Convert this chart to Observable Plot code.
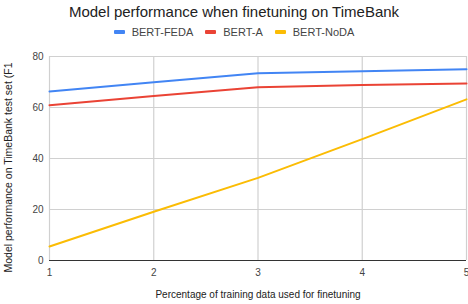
<!DOCTYPE html>
<html><head><meta charset="utf-8">
<script src="https://cdn.jsdelivr.net/npm/d3@7"></script>
<script src="https://cdn.jsdelivr.net/npm/@observablehq/plot@0.6"></script>
<style>
body{margin:0;background:#fff;font-family:"Liberation Sans",Arial,sans-serif;}
#wrap{width:468px;height:304px;overflow:hidden;}
#title{height:24px;line-height:23px;text-align:center;font-size:15px;color:#222;}
#legend{height:16px;display:flex;align-items:center;justify-content:center;font-size:11px;color:#444;}
.item{display:flex;align-items:center;margin:0 6px;}
.sw{width:11px;height:4px;border-radius:1px;margin-right:7px;}
svg{display:block}
</style></head>
<body><div id="wrap"><div id="title"></div><div id="legend"></div><div id="chart"></div></div>
<script>
const titleText = "Model performance when finetuning on TimeBank";
const xLabel = "Percentage of training data used for finetuning";
const yLabel = "Model performance on TimeBank test set (F1";
const xValues = [1, 2, 3, 4, 5];
const yTicks = [0, 20, 40, 60, 80];
const seriesNames = ["BERT-FEDA", "BERT-A", "BERT-NoDA"];
const seriesColors = ["#4285F4", "#EA4335", "#FBBC04"];
const bertFEDA = [66.3, 69.9, 73.4, 74.2, 75.0];
const bertA = [60.9, 64.5, 67.9, 68.8, 69.4];
const bertNoDA = [5.5, 19.1, 32.4, 47.6, 63.2];

document.getElementById("title").textContent = titleText;
const leg = document.getElementById("legend");
seriesNames.forEach((n, i) => {
  const it = document.createElement("div"); it.className = "item";
  const sw = document.createElement("div"); sw.className = "sw"; sw.style.background = seriesColors[i];
  const t = document.createElement("span"); t.textContent = n;
  it.appendChild(sw); it.appendChild(t); leg.appendChild(it);
});

const allSeries = [bertFEDA, bertA, bertNoDA];
const data = [];
allSeries.forEach((vals, i) => vals.forEach((v, j) => data.push({x: xValues[j], y: v, s: seriesNames[i]})));

const chart = Plot.plot({
  width: 468, height: 264,
  marginLeft: 49, marginRight: 2, marginTop: 16, marginBottom: 44,
  style: {fontFamily: "'Liberation Sans', Arial, sans-serif", fontSize: "10px", color: "#444", background: "white", overflow: "visible"},
  x: {domain: [1, 5], ticks: xValues, label: null},
  y: {domain: [0, 80], ticks: yTicks, label: null},
  color: {domain: seriesNames, range: seriesColors},
  marks: [
    Plot.ruleY(yTicks.filter(d => d > 0), {stroke: "#d0d0d0", strokeWidth: 1.2}),
    Plot.ruleX(xValues, {stroke: "#d0d0d0", strokeWidth: 1.2}),
    Plot.axisY({ticks: yTicks, tickSize: 0, tickPadding: 6, label: null, fill: "#444", fontSize: 10}),
    Plot.axisX({ticks: xValues, tickSize: 0, tickPadding: 8, tickFormat: d3.format("d"), label: null, fill: "#444", fontSize: 10}),
    Plot.line(data, {x: "x", y: "y", stroke: "s", strokeWidth: 2}),
    Plot.ruleY([0], {stroke: "#333", strokeWidth: 1.2}),
    Plot.text([xLabel], {frameAnchor: "bottom", dy: 37, fill: "#222", fontSize: 10}),
    Plot.text([yLabel], {frameAnchor: "left", textAnchor: "middle", rotate: -90, dx: -41, dy: 9, fill: "#222", fontSize: 10.5})
  ]
});
document.getElementById("chart").appendChild(chart);
</script></body></html>
